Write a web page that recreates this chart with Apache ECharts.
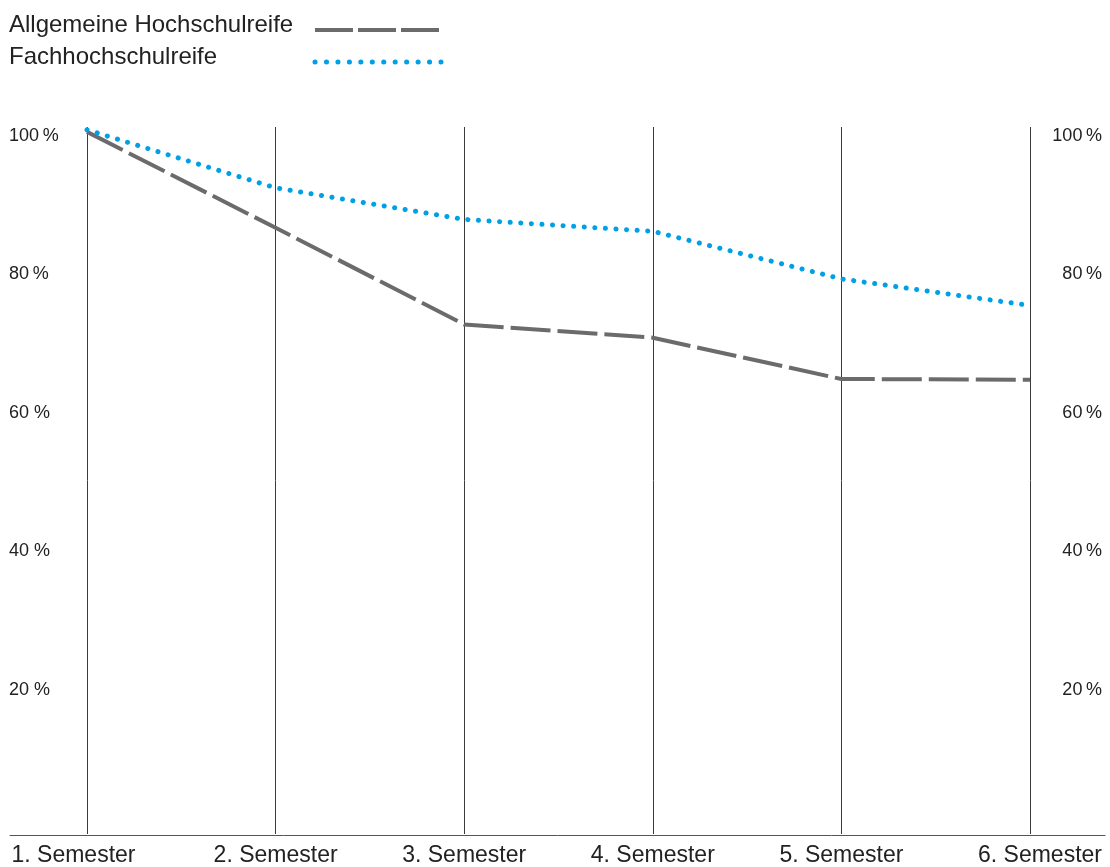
<!DOCTYPE html>
<html><head><meta charset="utf-8">
<script src="https://cdn.jsdelivr.net/npm/echarts@6/dist/echarts.min.js"></script>
<style>html,body{margin:0;padding:0;background:#fff}#c{width:1110px;height:867px}</style>
</head><body><div id="c"></div>
<script>
// ---- data ----
const categories = ['1. Semester', '2. Semester', '3. Semester', '4. Semester', '5. Semester', '6. Semester'];
const seriesNames = ['Allgemeine Hochschulreife', 'Fachhochschulreife'];
const allgemeine = [100.3, 86.6, 72.8, 70.9, 65.0, 64.9];
const fachhochschul = [100.6, 92.3, 87.8, 86.1, 79.3, 75.5];
const tickValues = [20, 40, 60, 80, 100];
const leftTickLabels = ['20 %', '40 %', '60 %', '80\u2009%', '100\u2009%'];
const rightTickLabels = ['20\u2009%', '40\u2009%', '60\u2009%', '80\u2009%', '100\u2009%'];

// ---- style ----
const FONT = 'Liberation Sans, Arial, sans-serif';
const TXT = '#222';
const GREY = '#6b6b6d';
const BLUE = '#00a0e6';
const LEGEND_FS = 24;

function tickFmt(labels) {
  return function (v) {
    const i = tickValues.indexOf(Math.round(v));
    return i >= 0 ? labels[i] : '';
  };
}

// legend: text left-aligned in a fixed-width box, icons in one column to its right
const mctx = document.createElement('canvas').getContext('2d');
mctx.font = LEGEND_FS + 'px ' + FONT;
const LEGEND_TEXT_BOX = 301;
const legendRich = {
  a: { fontSize: LEGEND_FS, lineHeight: 22, padding: [0, 0, 10, 0], fontFamily: FONT, color: TXT }
};
seriesNames.forEach(function (n, i) {
  const w = Math.max(1, LEGEND_TEXT_BOX - mctx.measureText(n).width);
  legendRich['s' + i] = { width: w, fontSize: LEGEND_FS, lineHeight: 22, padding: [0, 0, 10, 0], fontFamily: FONT, color: TXT };
});

const chart = echarts.init(document.getElementById('c'), null, { renderer: 'canvas' });
chart.setOption({
  backgroundColor: '#fff',
  animation: false,
  legend: {
    orient: 'vertical', left: 9, top: 13, align: 'right', padding: 0,
    itemWidth: 126, itemHeight: 4, itemGap: -2, selectedMode: false,
    itemStyle: { opacity: 0 },
    formatter: function (name) {
      const i = seriesNames.indexOf(name);
      return '{a|' + name + '}{s' + i + '|\u00a0}';
    },
    textStyle: { rich: legendRich },
    data: [
      { name: seriesNames[0], lineStyle: { width: 4, type: [38, 5], color: GREY } },
      { name: seriesNames[1], lineStyle: { width: 5, type: [0.1, 11.35], cap: 'round', color: BLUE } }
    ]
  },
  grid: [
    { left: 87, right: 80, top: 127, bottom: 32 },
    { left: 10, right: 5, top: 136, bottom: 38.5 },
    { left: 10, right: 5, top: 834, bottom: 32 }
  ],
  xAxis: [
    {
      type: 'category', gridIndex: 0, data: categories, boundaryGap: false,
      axisLine: { show: false }, axisTick: { show: false },
      splitLine: { show: true, lineStyle: { color: '#3a3a3a', width: 1 } },
      axisLabel: {
        margin: 10, interval: 0,
        formatter: function (v, i) {
          if (i === 0) return '{f|' + v + '}';
          if (i === categories.length - 1) return '{l|' + v + '}';
          return '{m|' + v + '}';
        },
        rich: {
          f: { fontSize: 23, fontFamily: FONT, color: TXT, padding: [0, 27, 0, 0] },
          m: { fontSize: 23, fontFamily: FONT, color: TXT },
          l: { fontSize: 23, fontFamily: FONT, color: TXT, padding: [0, 0, 0, 20] }
        }
      }
    },
    { type: 'value', gridIndex: 1, min: 0, max: 1, show: false },
    {
      type: 'value', gridIndex: 2, min: 0, max: 1,
      axisLine: { show: true, lineStyle: { color: '#555', width: 1 } },
      axisTick: { show: false }, axisLabel: { show: false }, splitLine: { show: false }
    }
  ],
  yAxis: [
    { type: 'value', gridIndex: 0, min: 0, max: 101, show: false },
    {
      type: 'value', gridIndex: 1, position: 'left', min: 0, max: 100, interval: 20,
      axisLine: { show: false }, axisTick: { show: false }, splitLine: { show: false },
      axisLabel: { align: 'left', margin: 1, fontSize: 18, fontFamily: FONT, color: TXT, formatter: tickFmt(leftTickLabels) }
    },
    {
      type: 'value', gridIndex: 1, position: 'right', min: 0, max: 100, interval: 20,
      axisLine: { show: false }, axisTick: { show: false }, splitLine: { show: false },
      axisLabel: { align: 'right', margin: -3, fontSize: 18, fontFamily: FONT, color: TXT, formatter: tickFmt(rightTickLabels) }
    },
    { type: 'value', gridIndex: 2, min: 0, max: 1, show: false }
  ],
  series: [
    {
      name: seriesNames[0], type: 'line', xAxisIndex: 0, yAxisIndex: 0, data: allgemeine,
      symbol: 'none', lineStyle: { color: GREY, width: 4, type: [40, 7], join: 'round' },
      itemStyle: { color: GREY }
    },
    {
      name: seriesNames[1], type: 'line', xAxisIndex: 0, yAxisIndex: 0, data: fachhochschul,
      symbol: 'none', lineStyle: { color: BLUE, width: 5, type: [0.1, 10.5], cap: 'round', join: 'round' },
      itemStyle: { color: BLUE }
    }
  ]
});
</script></body></html>
